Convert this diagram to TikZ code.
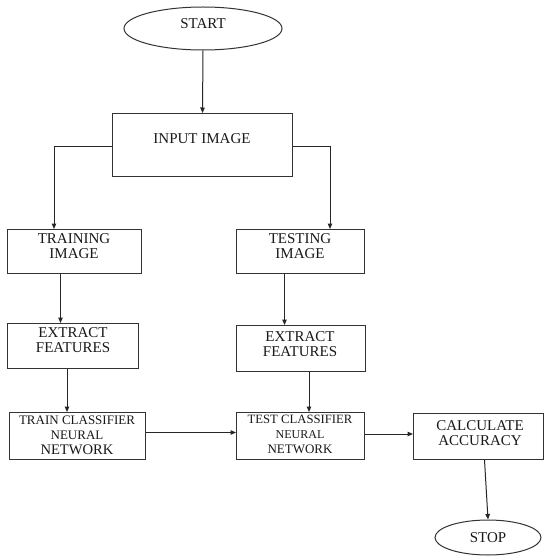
\documentclass[tikz,border=0pt]{standalone}
\usepackage{fontspec}
\setmainfont{Liberation Serif}
\usetikzlibrary{arrows.meta,shapes.geometric,calc}
\begin{document}
\begin{tikzpicture}[x=1pt,y=-1pt,
  line width=1pt,
  boxshape/.style={draw=black!80,line width=1pt,rectangle,inner sep=0pt,anchor=north west},
  ovalshape/.style={draw=black!80,line width=1pt,ellipse,inner sep=0pt},
  txt/.style={align=center,inner sep=0pt,text=black!90,font=\fontsize{15}{15}\selectfont},
  arr/.style={draw=black!85,line width=1pt,-{Triangle[length=5.5pt,width=4.5pt]}},
  con/.style={draw=black!85,line width=1pt}]
\path[use as bounding box,fill=white] (0,0) rectangle (544,556);

% shapes
\node[ovalshape,minimum width=158pt,minimum height=43pt] (start) at (203,28.5) {};
\node[ovalshape,minimum width=106pt,minimum height=35pt] (stop) at (488,537.5) {};
\node[boxshape,minimum width=180pt,minimum height=63pt] (input) at (112,113) {};
\node[boxshape,minimum width=134pt,minimum height=44pt] (train) at (7,229) {};
\node[boxshape,minimum width=128pt,minimum height=44pt] (test) at (236,229) {};
\node[boxshape,minimum width=131pt,minimum height=45pt] (ext1) at (7,323) {};
\node[boxshape,minimum width=129pt,minimum height=46pt] (ext2) at (236,325) {};
\node[boxshape,minimum width=136pt,minimum height=47pt] (trcls) at (9,412) {};
\node[boxshape,minimum width=128pt,minimum height=47pt] (tscls) at (236,412) {};
\node[boxshape,minimum width=130pt,minimum height=46pt] (calc) at (413,413) {};

% texts
\node[txt] (tstart) at (203,24) {START};
\node[txt] (tstop) at (488,538) {STOP};
\node[txt] (tinput) at (202,139) {INPUT IMAGE};
\node[txt] (ttrain) at (74,246.5) {TRAINING\\IMAGE};
\node[txt] (ttest) at (300,246) {TESTING\\IMAGE};
\node[txt] (text1) at (73,340.5) {EXTRACT\\FEATURES};
\node[txt] (text2) at (300,344.5) {EXTRACT\\FEATURES};
\node[txt] (ttrcls) at (77,435) {{\fontsize{13}{12}\selectfont TRAIN CLASSIFIER}\\{\fontsize{13}{12}\selectfont NEURAL}\\{\fontsize{14.6}{14}\selectfont NETWORK}};
\node[txt] (ttscls) at (300,434.5) {{\fontsize{12.7}{12}\selectfont TEST CLASSIFIER}\\{\fontsize{12}{12}\selectfont NEURAL}\\{\fontsize{13}{13}\selectfont NETWORK}};
\node[txt] (tcalc) at (480,433) {{\fontsize{15}{16}\selectfont CALCULATE}\\{\fontsize{15}{16}\selectfont ACCURACY}};

% connectors
\draw[arr] (start.south) -- (input.north);
\coordinate (ltop) at (54,229);
\coordinate (rtop) at (330,229);
\draw[arr] ([yshift=-1.5pt]input.west) -| (ltop);
\draw[arr] ([yshift=-1.5pt]input.east) -| (rtop);
\draw[arr] ([xshift=-14pt]train.south) -- ([xshift=-14pt]train.south |- ext1.north);
\draw[arr] ([xshift=-16pt]test.south) -- ([xshift=-16pt]test.south |- ext2.north);
\draw[arr] ([xshift=-6pt]ext1.south) -- ([xshift=-6pt]ext1.south |- trcls.north);
\draw[arr] ([xshift=8pt]ext2.south) -- ([xshift=8pt]ext2.south |- tscls.north);
\draw[arr] ([yshift=3.5pt]trcls.east) -- ([yshift=3.5pt]trcls.east -| tscls.west);
\draw[arr] ([yshift=2pt]tscls.east) -- ([yshift=2pt]tscls.east -| calc.west);
\draw[arr] ([xshift=6pt]calc.south) -- (stop.north);
\end{tikzpicture}
\end{document}
